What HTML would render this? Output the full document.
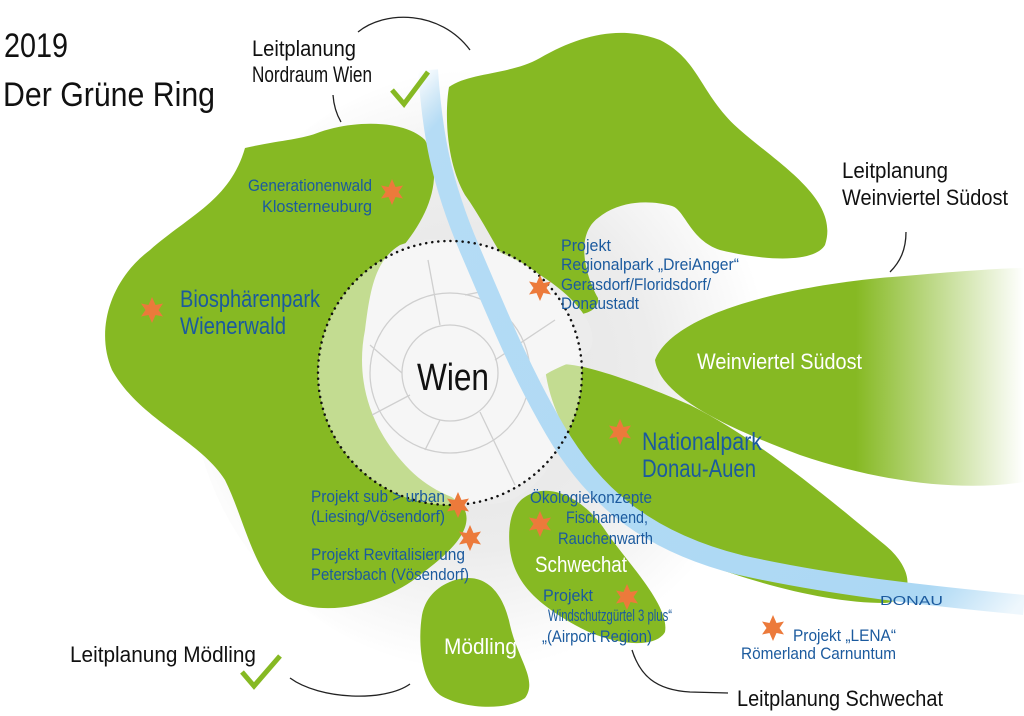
<!DOCTYPE html>
<html><head><meta charset="utf-8"><style>
html,body{margin:0;padding:0;background:#fff;}
svg{display:block;}
text{font-family:"Liberation Sans",sans-serif;}
.b{fill:#1b5a9e;}
.k{fill:#111;}
.w{fill:#fff;}
</style></head><body>
<svg width="1024" height="716" viewBox="0 0 1024 716" xmlns="http://www.w3.org/2000/svg">
<defs>
<radialGradient id="halo" cx="470" cy="370" r="300" gradientUnits="userSpaceOnUse">
<stop offset="0" stop-color="#e4e4e4"/><stop offset="0.6" stop-color="#ececec"/><stop offset="1" stop-color="#fff"/>
</radialGradient>
<linearGradient id="wv" x1="650" y1="0" x2="1024" y2="0" gradientUnits="userSpaceOnUse">
<stop offset="0.55" stop-color="#86b923"/><stop offset="1" stop-color="#86b923" stop-opacity="0"/>
</linearGradient>
<linearGradient id="rv" x1="420" y1="70" x2="1024" y2="600" gradientUnits="userSpaceOnUse">
<stop offset="0" stop-color="#b5dcf5" stop-opacity="0"/><stop offset="0.06" stop-color="#b5dcf5"/><stop offset="0.9" stop-color="#acd8f4"/><stop offset="1" stop-color="#acd8f4" stop-opacity="0.2"/>
</linearGradient>
<g id="st"><polygon points="0,-13 3.5,-5 11,-6.5 6.5,0 11,6.5 3.5,5 0,13 -3.5,5 -11,6.5 -6.5,0 -11,-6.5 -3.5,-5" fill="#ec7a3b"/></g>
</defs>
<rect width="1024" height="716" fill="#fff"/>
<ellipse cx="480" cy="370" rx="290" ry="300" fill="url(#halo)"/>

<g fill="#86b923">
<path d="M245,148 C280,140 300,140 320,132 C355,120 405,120 425,140 C445,175 430,215 400,250 C370,290 360,340 375,400 C390,450 430,480 462,505 C480,530 440,560 420,575 C390,600 330,620 290,600 C255,580 245,520 225,480 C200,440 140,420 112,370 C95,330 110,280 150,250 C190,215 230,200 245,148 Z"/>
<path d="M449,87 C470,72 510,75 540,58 C580,35 620,25 660,40 C700,60 700,95 740,130 C780,165 840,200 825,245 C815,262 770,262 720,250 C690,240 685,210 672,206 C650,200 620,200 598,218 C575,235 585,275 598,298 C600,318 560,322 535,300 C505,270 490,230 465,195 C445,160 445,110 449,87 Z"/>
<path d="M655,360 C670,320 760,290 880,278 C950,272 1000,268 1024,268 L1024,482 C960,492 880,482 800,455 C720,425 660,395 655,360 Z" fill="url(#wv)"/>
<path d="M545,368 C560,355 620,375 690,405 C760,440 830,500 885,545 C915,570 915,600 885,603 C830,603 760,585 700,562 C650,540 615,505 590,470 C570,440 550,410 545,368 Z"/>
<path d="M525,497 C550,480 585,500 605,530 C625,560 670,605 665,632 C655,650 610,645 575,625 C540,605 515,585 510,550 C507,525 512,505 525,497 Z"/>
<path d="M455,580 C490,570 505,600 510,625 C518,660 538,680 525,698 C505,712 460,708 440,695 C420,680 418,640 422,615 C426,595 440,585 455,580 Z"/>
</g>

<path d="M400,245 C440,230 500,245 540,275 C580,300 600,330 590,350 C570,370 520,370 540,405 C560,440 560,470 520,495 C490,515 440,500 410,470 C370,430 355,380 365,330 C370,290 375,260 400,245 Z" fill="#ececec"/>
<circle cx="450" cy="373" r="132" fill="#fff" fill-opacity="0.5"/>
<g fill="none" stroke="#cfcfcf" stroke-width="1.3">
<circle cx="450" cy="373" r="80"/><circle cx="450" cy="373" r="48"/>
<path d="M428,260 L440,325 M370,345 L402,373 M372,415 L410,395 M425,450 L440,420 M515,485 L480,412 M555,320 L495,360 M465,295 L490,290 L505,315 L495,330"/>
</g>
<path d="M428,70 C432,130 440,180 470,250 C500,320 520,370 555,430 C590,490 640,540 740,565 C830,585 920,595 1024,605" fill="none" stroke="url(#rv)" stroke-width="20"/>
<circle cx="450" cy="373" r="132" fill="none" stroke="#111" stroke-width="2.5" stroke-dasharray="0.1 6" stroke-linecap="round"/>

<g fill="none" stroke="#222" stroke-width="1.3">
<path d="M333,95 Q334,110 341,122"/>
<path d="M358,32 C385,10 440,10 470,50"/>
<path d="M906,232 C906,250 900,262 890,272"/>
<path d="M290,678 C320,700 385,702 410,684"/>
<path d="M632,650 C640,675 655,690 690,692 L728,693"/>
</g>
<path d="M392,90 L404,104 L428,72" fill="none" stroke="#86b923" stroke-width="5"/>
<path d="M242,672 L254,686 L280,656" fill="none" stroke="#86b923" stroke-width="5"/>

<use href="#st" x="392" y="192"/><use href="#st" x="152" y="310"/><use href="#st" x="540" y="288"/>
<use href="#st" x="620" y="432"/><use href="#st" x="458" y="505"/><use href="#st" x="470" y="538"/>
<use href="#st" x="540" y="524"/><use href="#st" x="627" y="597"/><use href="#st" x="773" y="628"/>

<text class="k" x="4" y="57" font-size="34" textLength="64" lengthAdjust="spacingAndGlyphs">2019</text>
<text class="k" x="3" y="106" font-size="34" textLength="212" lengthAdjust="spacingAndGlyphs">Der Grüne Ring</text>
<text class="k" x="252" y="56" font-size="22" textLength="104" lengthAdjust="spacingAndGlyphs">Leitplanung</text>
<text class="k" x="252" y="82" font-size="22" textLength="120" lengthAdjust="spacingAndGlyphs">Nordraum Wien</text>
<text class="k" x="842" y="178" font-size="22" textLength="106" lengthAdjust="spacingAndGlyphs">Leitplanung</text>
<text class="k" x="842" y="205" font-size="22" textLength="166" lengthAdjust="spacingAndGlyphs">Weinviertel Südost</text>
<text class="k" x="70" y="662" font-size="22" textLength="186" lengthAdjust="spacingAndGlyphs">Leitplanung Mödling</text>
<text class="k" x="737" y="706" font-size="22" textLength="206" lengthAdjust="spacingAndGlyphs">Leitplanung Schwechat</text>

<g class="b" font-size="17">
<text x="248" y="191" textLength="124" lengthAdjust="spacingAndGlyphs">Generationenwald</text>
<text x="262" y="212" textLength="110" lengthAdjust="spacingAndGlyphs">Klosterneuburg</text>
<text x="561" y="251" textLength="50" lengthAdjust="spacingAndGlyphs">Projekt</text>
<text x="561" y="270" textLength="178" lengthAdjust="spacingAndGlyphs">Regionalpark „DreiAnger“</text>
<text x="561" y="290" textLength="150" lengthAdjust="spacingAndGlyphs">Gerasdorf/Floridsdorf/</text>
<text x="561" y="309" textLength="78" lengthAdjust="spacingAndGlyphs">Donaustadt</text>
<text x="311" y="502" textLength="134" lengthAdjust="spacingAndGlyphs">Projekt sub &gt; urban</text>
<text x="311" y="522" textLength="134" lengthAdjust="spacingAndGlyphs">(Liesing/Vösendorf)</text>
<text x="311" y="560" textLength="154" lengthAdjust="spacingAndGlyphs">Projekt Revitalisierung</text>
<text x="311" y="580" textLength="158" lengthAdjust="spacingAndGlyphs">Petersbach (Vösendorf)</text>
<text x="530" y="503" textLength="122" lengthAdjust="spacingAndGlyphs">Ökologiekonzepte</text>
<text x="566" y="523" textLength="82" lengthAdjust="spacingAndGlyphs">Fischamend,</text>
<text x="558" y="544" textLength="95" lengthAdjust="spacingAndGlyphs">Rauchenwarth</text>
<text x="543" y="601" textLength="50" lengthAdjust="spacingAndGlyphs">Projekt</text>
<text x="548" y="621" textLength="124" lengthAdjust="spacingAndGlyphs">Windschutzgürtel 3 plus“</text>
<text x="542" y="642" textLength="110" lengthAdjust="spacingAndGlyphs">„(Airport Region)</text>
<text x="793" y="641" textLength="103" lengthAdjust="spacingAndGlyphs">Projekt „LENA“</text>
<text x="741" y="659" textLength="155" lengthAdjust="spacingAndGlyphs">Römerland Carnuntum</text>
</g>
<text class="b" x="880" y="605" font-size="13" textLength="63" lengthAdjust="spacingAndGlyphs">DONAU</text>
<text class="b" x="180" y="307" font-size="24" textLength="140" lengthAdjust="spacingAndGlyphs">Biosphärenpark</text>
<text class="b" x="180" y="334" font-size="24" textLength="106" lengthAdjust="spacingAndGlyphs">Wienerwald</text>
<text class="b" x="642" y="450" font-size="25" textLength="120" lengthAdjust="spacingAndGlyphs">Nationalpark</text>
<text class="b" x="642" y="477" font-size="25" textLength="114" lengthAdjust="spacingAndGlyphs">Donau-Auen</text>
<text class="w" x="697" y="369" font-size="22" textLength="165" lengthAdjust="spacingAndGlyphs">Weinviertel Südost</text>
<text class="w" x="535" y="572" font-size="22" textLength="92" lengthAdjust="spacingAndGlyphs">Schwechat</text>
<text class="w" x="444" y="654" font-size="22" textLength="73" lengthAdjust="spacingAndGlyphs">Mödling</text>
<text class="k" x="417" y="390" font-size="38" textLength="72" lengthAdjust="spacingAndGlyphs">Wien</text>
</svg>
</body></html>
